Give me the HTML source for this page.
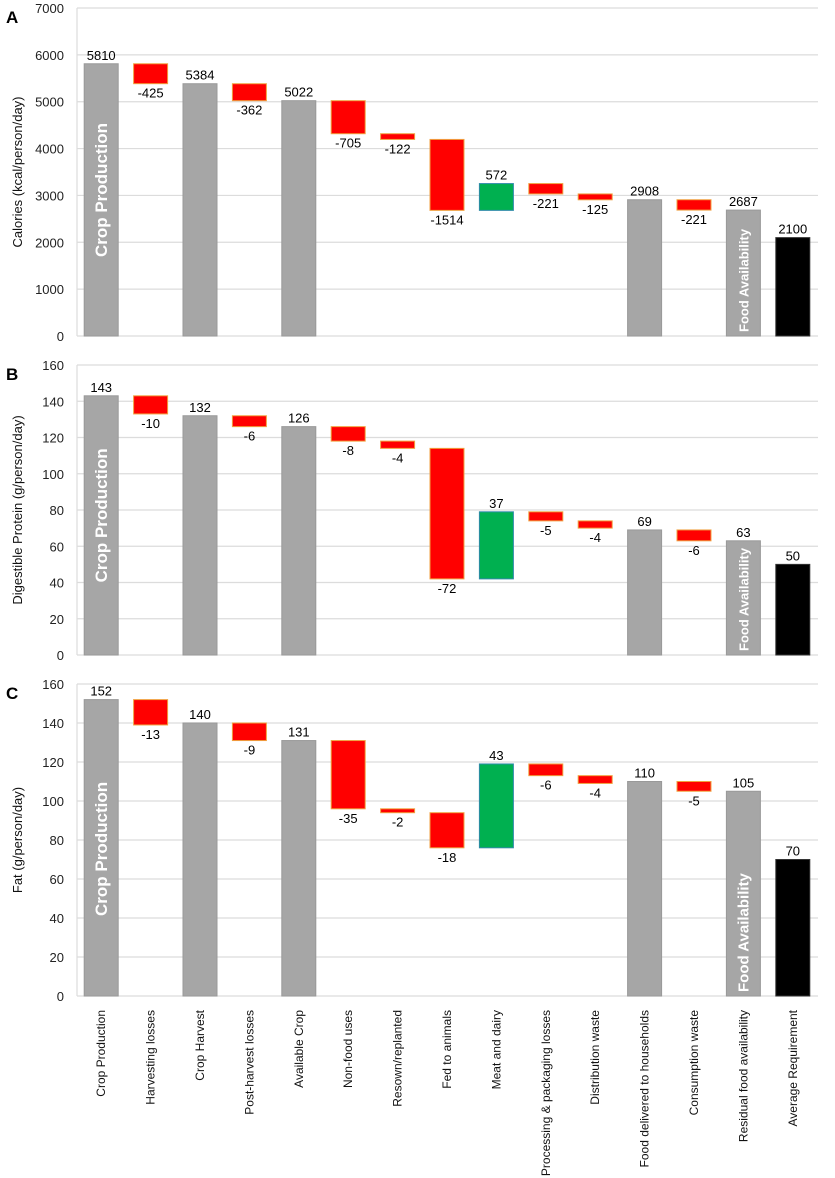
<!DOCTYPE html>
<html><head><meta charset="utf-8">
<style>
body{margin:0;background:#fff;}
svg{display:block;font-family:"Liberation Sans",Arial,sans-serif;}
</style></head>
<body>
<svg id="chart" width="835" height="1178"></svg>
<script>
const categories=["Crop Production","Harvesting losses","Crop Harvest","Post-harvest losses","Available Crop","Non-food uses","Resown/replanted","Fed to animals","Meat and dairy","Processing & packaging losses","Distribution waste","Food delivered to households","Consumption waste","Residual food availability","Average Requirement"];
// kind: t=total, d=delta, r=requirement
const kinds=["t","d","t","d","t","d","d","d","d","d","d","t","d","t","r"];
const calories=[5810,-425,5384,-362,5022,-705,-122,-1514,572,-221,-125,2908,-221,2687,2100];
const protein=[143,-10,132,-6,126,-8,-4,-72,37,-5,-4,69,-6,63,50];
const fat=[152,-13,140,-9,131,-35,-2,-18,43,-6,-4,110,-5,105,70];
const calTicks=[0,1000,2000,3000,4000,5000,6000,7000];
const gTicks=[0,20,40,60,80,100,120,140,160];

const NS="http://www.w3.org/2000/svg";
const svg=document.getElementById("chart");
function mk(tag,attrs,parent){const e=document.createElementNS(NS,tag);for(const k in attrs)e.setAttribute(k,attrs[k]);(parent||svg).appendChild(e);return e;}

const X0=77,X1=818,step=(X1-X0)/15,bw=34;
function xc(i){return X0+step*(i+0.5)-0.5;}

function panel(key,letter,title,values,ticks,yTop,yBot,maxV,bigFont,faFont,cpFrac){
  const g=mk("g",{});
  
  
  const y=v=>yBot-(v/maxV)*(yBot-yTop);
  ticks.forEach(t=>{
    const l=mk("line",{x1:X0,x2:X1,y1:y(t),y2:y(t),stroke:"#dcdcdc","stroke-width":1.2},g);
    
    
    const tx=mk("text",{x:X0-13,y:y(t)+5,"text-anchor":"end","font-size":13,fill:"#222"},g);
    tx.textContent=t;
    
    
  });
  const fr=mk("line",{x1:X0,x2:X0,y1:yTop,y2:yBot,stroke:"#dcdcdc","stroke-width":1.2},g);
  
  
  const lt=mk("text",{x:6,y:yTop+15,"font-size":17,"font-weight":"bold",fill:"#000"},g);
  lt.textContent=letter;
  
  
  const yt=mk("text",{x:0,y:0,"text-anchor":"middle","font-size":13,fill:"#111",transform:`translate(22,${(yTop+yBot)/2}) rotate(-90)`},g);
  yt.textContent=title;
  
  
  let run=0;
  values.forEach((v,i)=>{
    let top,bot,fill,stroke,label,ly;
    if(kinds[i]==="t"||kinds[i]==="r"){
      top=v;bot=0;run=(kinds[i]==="t")?v:run;
      fill=kinds[i]==="r"?"#000":"#a6a6a6";stroke=kinds[i]==="r"?"#333":"#999";
      label=v;ly=y(v)-4;
    }else{
      const nv=run+v;
      top=Math.max(run,nv);bot=Math.min(run,nv);
      if(v<0){fill="#ff0000";stroke="#f0a040";ly=y(bot)+14;}
      else{fill="#00b050";stroke="#2e8ba8";ly=y(top)-4;}
      label=v;run=nv;
    }
    const r=mk("rect",{x:xc(i)-bw/2,y:y(top),width:bw,height:Math.max(1,y(bot)-y(top)),fill:fill,stroke:stroke,"stroke-width":1},g);
    
    
    const t=mk("text",{x:xc(i),y:ly,"text-anchor":"middle","font-size":13,fill:"#000"},g);
    t.textContent=label;
    
    
  });
  const cp=mk("text",{x:0,y:0,"text-anchor":"start","font-size":bigFont,"font-weight":"bold",fill:"#fff",transform:`translate(${xc(0)+6},${y(values[0])+(yBot-y(values[0]))*cpFrac}) rotate(-90)`},g);
  cp.textContent="Crop Production";
  
  
  const fa=mk("text",{x:0,y:0,"text-anchor":"start","font-size":faFont,"font-weight":"bold",fill:"#fff",transform:`translate(${xc(13)+5},${yBot-4}) rotate(-90)`},g);
  fa.textContent="Food Availability";
  
  
}
panel("calories","A","Calories (kcal/person/day)",calories,calTicks,8,336,7000,17,13,0.71);
panel("protein","B","Digestible Protein (g/person/day)",protein,gTicks,365,655,160,17,13,0.72);
panel("fat","C","Fat (g/person/day)",fat,gTicks,684,996,160,17,15,0.73);
categories.forEach((c,i)=>{
  const t=mk("text",{x:0,y:0,"text-anchor":"end","font-size":12,fill:"#111",transform:`translate(${xc(i)+4},1010) rotate(-90)`});
  t.textContent=c;
  
  
});
</script>
</body></html>
